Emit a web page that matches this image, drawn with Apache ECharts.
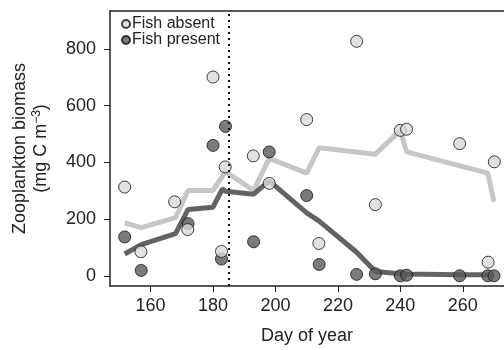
<!DOCTYPE html>
<html><head><meta charset="utf-8">
<script src="https://cdn.jsdelivr.net/npm/echarts@6/dist/echarts.min.js"></script>
<style>html,body{margin:0;padding:0;background:#fff}#c{width:504px;height:350px}</style>
</head><body><div id="c"></div>
<script>
// Observations: fish absent
const absentDays = [151.7,156.9,167.7,171.9,180,182.7,183.9,192.9,198,210,213.9,226,232,240,242,259,268.1,270.1];
const absentVals = [313,85,261,163,701,86,384,423,326,551,114,827,251,513,517,466,48,402];
// Observations: fish present
const presentDays = [151.7,157,172,180,182.7,184,193,198,210,214,226,232,240,242,259,268,270];
const presentVals = [137,19,184,460,59,527,120,437,283,40,5,7,0,2,0,0,0];
// Smoothed lines
const absentLineDays = [151.7,157,168,172,180,184,193,198,210,214,232,240,242,268,270];
const absentLineVals = [187,170,205,301,301,368,301,414,362,452,429,513,437,362,261];
const presentLineDays = [151.7,157,168,172,180,183,184,193,198,210,214,226,232,240,242,259,268,270];
const presentLineVals = [77,110,149,234,242,307,298,288,335,222,193,83,15,7,6,4,4,4];
const xTicks = [160,180,200,220,240,260];
const yTicks = [0,200,400,600,800];
const fishIntroDay = 185;

const zip = (a,b) => a.map((v,i)=>[v,b[i]]);
const font = 'Liberation Sans, Arial, sans-serif';
const chart = echarts.init(document.getElementById('c'));
chart.setOption({
  animation:false,
  grid:{left:110,top:11,right:0,bottom:61,containLabel:false},
  legend:{
    left:116, top:11, orient:'vertical', itemGap:0, itemWidth:8, itemHeight:8,
    textStyle:{fontFamily:font,fontSize:16,color:'#222',padding:[0,0,0,-3]},
    data:['Fish absent','Fish present']
  },
  xAxis:[{
    type:'value', min:147, max:273.2,
    splitLine:{show:false},
    axisLine:{show:true,onZero:false,lineStyle:{color:'#222',width:1.5}},
    axisTick:{show:true,length:6,customValues:xTicks,lineStyle:{color:'#222'}},
    axisLabel:{customValues:xTicks,fontFamily:font,fontSize:18,color:'#222',margin:11},
    name:'Day of year', nameLocation:'middle', nameGap:41,
    nameTextStyle:{fontFamily:font,fontSize:18,color:'#222'}
  },{
    type:'value', position:'top', min:147, max:273.2,
    splitLine:{show:false}, axisTick:{show:false}, axisLabel:{show:false},
    axisLine:{show:true,onZero:false,lineStyle:{color:'#222',width:1.5}}
  }],
  yAxis:{
    type:'value', min:-36, max:934,
    splitLine:{show:false},
    axisLine:{show:true,onZero:false,lineStyle:{color:'#222',width:1.5}},
    axisTick:{show:true,length:6,customValues:yTicks,lineStyle:{color:'#222'}},
    axisLabel:{customValues:yTicks,fontFamily:font,fontSize:18,color:'#222',margin:14},
    name:'{a|Zooplankton biomass}\n{a|(mg C m}{s|−3}{a|)}',
    nameLocation:'middle', nameRotate:90, nameGap:58,
    nameTextStyle:{fontFamily:font,color:'#222',lineHeight:21,
      rich:{a:{fontFamily:font,fontSize:18,color:'#222',lineHeight:21},
            s:{fontFamily:font,fontSize:12,color:'#222',padding:[0,0,9,0]}}}
  },
  series:[
    {type:'line', data:zip(absentLineDays,absentLineVals), showSymbol:false, symbol:'none',
     lineStyle:{color:'#c6c6c6',width:5}, z:1, silent:true,
     markLine:{silent:true,symbol:'none',label:{show:false},
       lineStyle:{color:'#111',type:[2,4],width:2},data:[{xAxis:fishIntroDay}]}},
    {type:'line', data:zip(presentLineDays,presentLineVals), showSymbol:false, symbol:'none',
     lineStyle:{color:'#636363',width:5}, z:2, silent:true},
    {name:'Fish present', type:'scatter', data:zip(presentDays,presentVals), symbol:'circle', symbolSize:12,
     itemStyle:{color:'#5a5a5a',borderColor:'#111',borderWidth:1}, z:3},
    {name:'Fish absent', type:'scatter', data:zip(absentDays,absentVals), symbol:'circle', symbolSize:12,
     itemStyle:{color:'#dadada',borderColor:'#111',borderWidth:1}, z:4}
  ]
});
</script></body></html>
